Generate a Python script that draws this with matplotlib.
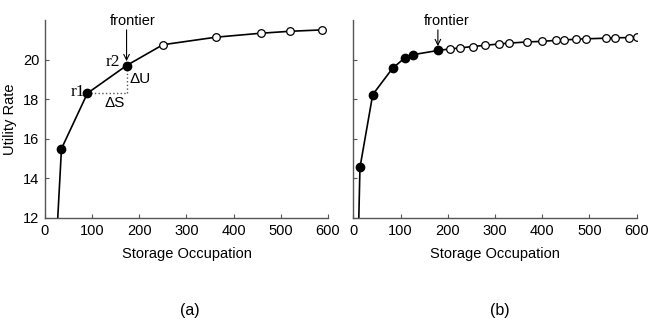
import numpy as np
import matplotlib.pyplot as plt

#---------------- data ----------------#
# panel (a)
occ_a = [0, 35, 90, 173, 250, 362, 457, 520, 588]
util_a = [0, 15.5, 18.3, 19.7, 20.75, 21.13, 21.33, 21.43, 21.5]
frontier_a = 3  # index of the frontier point (r2), r1 is the one before

# panel (b)
occ_b = [0, 14, 41, 83, 109, 127, 179, 205, 226, 253, 279, 309, 329, 367,
         399, 429, 447, 471, 493, 535, 554, 583, 600]
util_b = [0, 14.55, 18.23, 19.56, 20.09, 20.25, 20.46, 20.54, 20.59, 20.66,
          20.72, 20.79, 20.83, 20.89, 20.92, 20.97, 20.99, 21.03, 21.05,
          21.08, 21.1, 21.11, 21.13]
frontier_b = 6

xticks = [0, 100, 200, 300, 400, 500, 600]
yticks = [12, 14, 16, 18, 20]

plt.rcParams['font.family'] = ['Liberation Sans', 'DejaVu Sans']
plt.rcParams['font.size'] = 10

fig = plt.figure(figsize=(6.48, 3.32), dpi=100)
ax_a = fig.add_axes([0.0694, 0.3434, 0.4367, 0.5964])
ax_b = fig.add_axes([0.5453, 0.3434, 0.4373, 0.5964])


def draw_panel(ax, occ, util, fi, text_dx):
    occ = np.asarray(occ)
    util = np.asarray(util)
    ax.plot(occ, util, color='black', lw=1.2, zorder=2)
    ax.plot(occ[1:fi + 1], util[1:fi + 1], 'o', color='black', ms=6, zorder=3)
    ax.plot(occ[fi + 1:], util[fi + 1:], 'o', mfc='white', mec='black',
            mew=0.9, ms=5.5, zorder=3)
    ax.set_xlim(0, 600)
    ax.set_ylim(12, 22)
    ax.set_xticks(xticks)
    ax.set_yticks(yticks)
    for s in ['top', 'right']:
        ax.spines[s].set_visible(False)
    for s in ['left', 'bottom']:
        ax.spines[s].set_color('#555555')
        ax.spines[s].set_linewidth(1.0)
    ax.tick_params(direction='in', length=3, width=0.8, color='#555555',
                   labelsize=10.5, pad=4)
    ax.set_xlabel('Storage Occupation', fontsize=10.5, labelpad=7)
    # frontier label with a vertical arrow down to the frontier point
    ax.text(occ[fi] + text_dx, 21.6, 'frontier', ha='center', va='bottom',
            fontsize=10.5, clip_on=False)
    ax.annotate('', xy=(occ[fi], util[fi] + 0.22), xytext=(occ[fi], 21.5),
                annotation_clip=False,
                arrowprops=dict(arrowstyle='->', color='black', lw=0.8,
                                shrinkA=0, shrinkB=0))


draw_panel(ax_a, occ_a, util_a, frontier_a, 13)
draw_panel(ax_b, occ_b, util_b, frontier_b, 19)

ax_a.set_ylabel('Utility Rate', fontsize=10.5, labelpad=4)
ax_b.tick_params(labelleft=False)

# r1 / r2 construction on panel (a)
x1, y1 = occ_a[frontier_a - 1], util_a[frontier_a - 1]
x2, y2 = occ_a[frontier_a], util_a[frontier_a]
ax_a.plot([x1, x2], [y1, y1], ls=':', color='#555555', lw=1.0, zorder=1)
ax_a.plot([x2, x2], [y1, y2], ls=':', color='#555555', lw=1.0, zorder=1)
ax_a.text(x1 - 4, y1 + 0.05, 'r1', family='Liberation Serif', fontsize=12.5,
          ha='right', va='center')
ax_a.text(x2 - 14, y2 + 0.17, 'r2', family='Liberation Serif', fontsize=12.5,
          ha='right', va='center')
ax_a.text(x2 + 7, 19.0, 'ΔU', fontsize=11, ha='left', va='center')
ax_a.text(148, 17.82, 'ΔS', fontsize=11, ha='center', va='center')

fig.text(0.293, 0.066, '(a)', fontsize=11.5, ha='center', va='center')
fig.text(0.771, 0.066, '(b)', fontsize=11.5, ha='center', va='center')

fig.savefig('out.png', dpi=100)
